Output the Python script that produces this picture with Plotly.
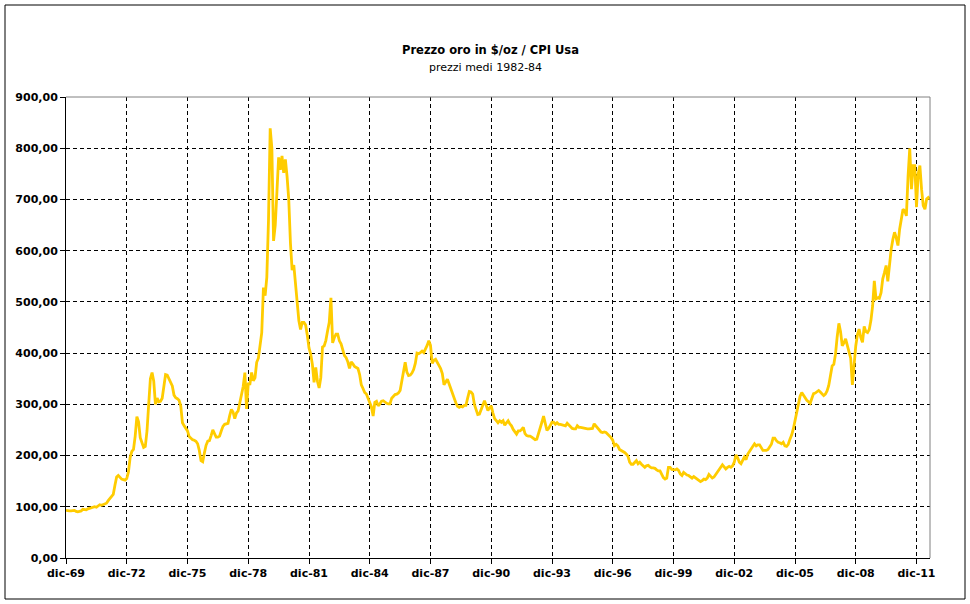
import plotly.graph_objects as go

# Gold price in $/oz deflated by US CPI (1982-84 = 100), monthly, dic-69 .. ago-12
dec_1969 = [93]
y1970 = [92, 92, 92, 93, 93, 91, 90, 91, 92, 95, 94, 94]
y1971 = [96, 97, 97, 99, 100, 99, 101, 104, 103, 104, 105, 107]
y1972 = [112, 116, 118, 124, 142, 158, 161, 158, 154, 153, 152, 155]
y1973 = [168, 196, 208, 212, 238, 276, 266, 235, 225, 216, 218, 248]
y1974 = [300, 350, 362, 345, 300, 312, 305, 306, 312, 340, 358, 357]
y1975 = [350, 341, 336, 318, 313, 311, 308, 297, 264, 258, 253, 248]
y1976 = [237, 233, 231, 230, 228, 223, 210, 190, 188, 205, 220, 228]
y1977 = [229, 239, 250, 243, 236, 236, 238, 248, 257, 261, 262, 263]
y1978 = [278, 290, 285, 272, 283, 287, 303, 318, 335, 362, 291, 340]
y1979 = [340, 362, 346, 352, 382, 390, 412, 440, 528, 512, 548, 660]
y1980 = [839, 800, 619, 650, 715, 782, 758, 785, 752, 778, 745, 700]
y1981 = [615, 562, 572, 540, 505, 463, 446, 460, 460, 455, 435, 410]
y1982 = [398, 378, 343, 372, 345, 332, 352, 412, 414, 425, 443, 460]
y1983 = [508, 420, 430, 437, 437, 424, 418, 408, 395, 391, 383, 370]
y1984 = [383, 379, 374, 372, 370, 358, 338, 331, 323, 320, 311, 303]
y1985 = [295, 277, 304, 306, 297, 301, 306, 307, 304, 302, 301, 301]
y1986 = [312, 316, 319, 320, 322, 327, 345, 367, 382, 363, 356, 357]
y1987 = [361, 368, 380, 400, 399, 401, 404, 401, 407, 415, 424, 415]
y1988 = [380, 386, 388, 383, 376, 370, 360, 338, 345, 349, 340, 330]
y1989 = [322, 313, 303, 296, 294, 296, 295, 298, 298, 312, 325, 324]
y1990 = [320, 300, 288, 280, 281, 290, 300, 307, 298, 288, 293, 297]
y1991 = [283, 272, 268, 264, 268, 265, 268, 259, 264, 268, 262, 258]
y1992 = [251, 246, 242, 248, 248, 251, 255, 243, 239, 238, 238, 236]
y1993 = [234, 231, 232, 242, 256, 265, 277, 259, 249, 253, 259, 265]
y1994 = [265, 261, 264, 261, 261, 260, 260, 258, 263, 260, 256, 253]
y1995 = [252, 252, 258, 255, 255, 254, 253, 252, 252, 252, 252, 253]
y1996 = [262, 258, 254, 249, 246, 245, 246, 245, 242, 239, 235, 230]
y1997 = [219, 222, 219, 212, 210, 209, 206, 203, 199, 187, 183, 183]
y1998 = [186, 190, 184, 187, 183, 180, 177, 180, 181, 178, 176, 176]
y1999 = [175, 172, 170, 170, 163, 157, 154, 156, 177, 177, 173, 173]
y2000 = [172, 174, 171, 164, 161, 167, 164, 162, 161, 158, 156, 159]
y2001 = [156, 153, 151, 149, 151, 154, 153, 156, 163, 160, 156, 158]
y2002 = [163, 167, 171, 177, 182, 178, 174, 177, 179, 177, 180, 187]
y2003 = [201, 196, 187, 184, 190, 197, 192, 203, 208, 213, 216, 223]
y2004 = [219, 221, 221, 214, 210, 210, 210, 212, 218, 222, 234, 234]
y2005 = [229, 226, 225, 223, 226, 219, 218, 222, 232, 240, 252, 268]
y2006 = [283, 293, 316, 323, 318, 311, 308, 305, 302, 312, 321, 322]
y2007 = [324, 327, 324, 321, 317, 320, 326, 337, 360, 375, 378, 398]
y2008 = [432, 458, 442, 414, 420, 428, 415, 402, 390, 338, 385, 414]
y2009 = [436, 447, 430, 421, 452, 442, 440, 446, 464, 492, 541, 506]
y2010 = [508, 507, 518, 545, 557, 571, 540, 577, 603, 622, 636, 625]
y2011 = [610, 642, 662, 681, 678, 668, 745, 800, 720, 766, 766, 685]
y2012 = [750, 766, 720, 688, 681, 701, 704, 700]

month_names = ["gen", "feb", "mar", "apr", "mag", "giu",
               "lug", "ago", "set", "ott", "nov", "dic"]
tick_labels = ["dic-69", "dic-72", "dic-75", "dic-78", "dic-81", "dic-84", "dic-87",
               "dic-90", "dic-93", "dic-96", "dic-99", "dic-02", "dic-05", "dic-08", "dic-11"]
y_ticks = [0, 100, 200, 300, 400, 500, 600, 700, 800, 900]

years = [y1970, y1971, y1972, y1973, y1974, y1975, y1976, y1977, y1978, y1979,
         y1980, y1981, y1982, y1983, y1984, y1985, y1986, y1987, y1988, y1989,
         y1990, y1991, y1992, y1993, y1994, y1995, y1996, y1997, y1998, y1999,
         y2000, y2001, y2002, y2003, y2004, y2005, y2006, y2007, y2008, y2009,
         y2010, y2011, y2012]

labels = ["dic-69"]
values = list(dec_1969)
for i, yr in enumerate(years):
    yy = (1970 + i) % 100
    for j, v in enumerate(yr):
        labels.append(f"{month_names[j]}-{yy:02d}")
        values.append(v)

fig = go.Figure()
fig.add_trace(go.Scatter(
    x=labels, y=values, mode="lines",
    line=dict(color="#FFCC00", width=2.8),
    hoverinfo="skip", showlegend=False,
))

tickfont = dict(family="DejaVu Sans", size=11, color="black", weight="bold")

fig.update_layout(
    width=970, height=604,
    margin=dict(l=66, r=40, t=97, b=46),
    paper_bgcolor="white", plot_bgcolor="white",
    separators=",.",
    showlegend=False,
    xaxis=dict(
        type="category",
        range=[0, len(labels) - 1],
        tickmode="array", tickvals=tick_labels, ticktext=tick_labels,
        ticks="outside", ticklen=5, tickcolor="black", tickwidth=1,
        showline=True, linecolor="black", linewidth=1,
        showgrid=True, gridcolor="black", gridwidth=1, griddash="4px,3px",
        tickfont=tickfont, tickangle=0, zeroline=False,
    ),
    yaxis=dict(
        range=[0, 900],
        tickmode="array", tickvals=y_ticks, tickformat=".2f",
        ticks="outside", ticklen=5, tickcolor="black", tickwidth=1,
        showline=True, linecolor="black", linewidth=1,
        showgrid=True, gridcolor="black", gridwidth=1, griddash="4px,3px",
        tickfont=tickfont, zeroline=False,
    ),
    shapes=[
        dict(type="line", xref="paper", yref="paper", x0=0, x1=1, y0=1, y1=1,
             line=dict(color="#808080", width=1)),
        dict(type="line", xref="paper", yref="paper", x0=1, x1=1, y0=0, y1=1,
             line=dict(color="#808080", width=1)),
        dict(type="rect", xref="paper", yref="paper",
             x0=(5 - 66) / 864, x1=(965 - 66) / 864,
             y0=(558 - 599) / 461, y1=(558 - 5) / 461,
             line=dict(color="black", width=1), fillcolor="rgba(0,0,0,0)"),
    ],
    annotations=[
        dict(text="<b>Prezzo oro in $/oz / CPI Usa</b>", xref="paper", yref="paper",
             x=(490 - 66) / 864, y=(558 - 50) / 461, xanchor="center", yanchor="middle",
             showarrow=False, font=dict(family="DejaVu Sans", size=11.5, color="black")),
        dict(text="prezzi medi 1982-84", xref="paper", yref="paper",
             x=(485 - 66) / 864, y=(558 - 67) / 461, xanchor="center", yanchor="middle",
             showarrow=False, font=dict(family="DejaVu Sans", size=11, color="black")),
    ],
)

fig.write_html(
    "out.html",
    config={"displayModeBar": False, "staticPlot": True},
    post_script="document.body.style.margin='0px';document.body.style.overflow='hidden';",
)
